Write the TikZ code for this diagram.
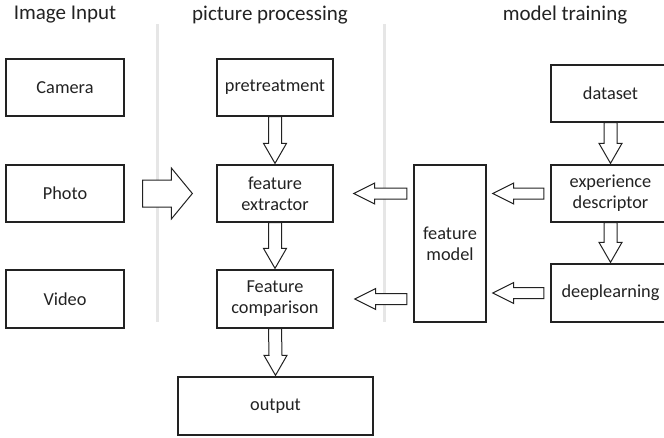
\documentclass[tikz,border=0pt]{standalone}
\usepackage{fontspec}
\setmainfont{Carlito}
\usetikzlibrary{calc}
\definecolor{ink}{HTML}{222222}
\definecolor{sep}{HTML}{E6E6E6}
\tikzset{
  box/.style={draw=ink, line width=1.3pt, inner sep=0pt, align=center,
    font=\fontsize{18.3}{21}\selectfont, text=ink},
  title/.style={font=\fontsize{21}{25}\selectfont, text=ink, inner sep=0pt},
  barrow/.style={draw=ink, line width=1pt, fill=white, line join=miter},
  sepline/.style={draw=sep, line width=3pt}
}
\newcommand\dnarrow[2]{% from node #1 (bottom) to node #2 (top)
  \path[barrow] ($(#1.south)+(-6.5,0)$) -- ($(#2.north)+(-6.5,-21)$) -- ($(#2.north)+(-11.5,-21)$)
    -- ($(#2.north)+(0,-1)$) -- ($(#2.north)+(11.5,-21)$) -- ($(#2.north)+(6.5,-21)$)
    -- ($(#1.south)+(6.5,0)$) -- cycle;}
% #1 source (arrow starts left of its west side), #2 target (tip right of its east side),
% #3 gap at source, #4 gap at target, #5 node giving the arrow's height
\newcommand\lfarrow[5]{%
  \path[barrow] ($(#1.west|-#5.center)+(-#3,-5.5)$) -- ($(#2.east|-#5.center)+(#4+21,-5.5)$)
    -- ($(#2.east|-#5.center)+(#4+21,-10.5)$) -- ($(#2.east|-#5.center)+(#4,0)$)
    -- ($(#2.east|-#5.center)+(#4+21,10.5)$) -- ($(#2.east|-#5.center)+(#4+21,5.5)$)
    -- ($(#1.west|-#5.center)+(-#3,5.5)$) -- cycle;}
\begin{document}
\begin{tikzpicture}[x=1pt,y=-1pt]
\clip (0,0) rectangle (664,437);
\fill[white] (0,0) rectangle (664,437);
% separators
\draw[sepline] (157,24) -- (157,322);
\draw[sepline] (384,24) -- (384,322);
% titles
\node[title] (t1) at (65,15) {Image Input};
\node[title] (t2) at (270,15) {picture processing};
\node[title] (t3) at (565,15) {model training};
% input column
\node[box, minimum width=118pt, minimum height=57pt] (cam) at (65,87.5) {Camera};
\node[box, minimum width=118pt, minimum height=57pt] (photo) at (65,193.5) {Photo};
\node[box, minimum width=118pt, minimum height=58pt] (video) at (65,299) {Video};
% processing column
\node[box, minimum width=116pt, minimum height=57pt] (pre) at (275,87.5) {pretreatment};
\node[box, minimum width=116pt, minimum height=57pt] (ext) at (275,193.5) {feature\\extractor};
\node[box, minimum width=116pt, minimum height=58pt] (cmp) at (275,299) {Feature\\comparison};
\node[box, minimum width=195pt, minimum height=58pt] (out) at (275.5,406) {output};
% training column
\node[box, minimum width=119pt, minimum height=57pt] (data) at (610.5,93.5) {dataset};
\node[box, minimum width=119pt, minimum height=57pt] (exp) at (610.5,193.5) {experience\\descriptor};
\node[box, minimum width=119pt, minimum height=58pt] (deep) at (610.5,293) {deeplearning};
\node[box, minimum width=72pt, minimum height=157pt] (fm) at (450,243.5) {feature\\model};
% big arrow photo -> extractor
\path[barrow] ($(photo.east)+(18,-13.5)$) -- ($(ext.west)+(-45,-13.5)$) -- ($(ext.west)+(-45,-25.5)$)
  -- ($(ext.west)+(-24,0)$) -- ($(ext.west)+(-45,25.5)$) -- ($(ext.west)+(-45,13.5)$)
  -- ($(photo.east)+(18,13.5)$) -- cycle;
% down arrows
\dnarrow{pre}{ext}
\dnarrow{ext}{cmp}
\dnarrow{cmp}{out}
\dnarrow{data}{exp}
\dnarrow{exp}{deep}
% left arrows
\lfarrow{fm}{ext}{6.5}{20}{ext}
\lfarrow{fm}{cmp}{6.5}{21}{cmp}
\lfarrow{exp}{fm}{6.5}{6}{exp}
\lfarrow{deep}{fm}{6.5}{6}{deep}
\end{tikzpicture}
\end{document}
